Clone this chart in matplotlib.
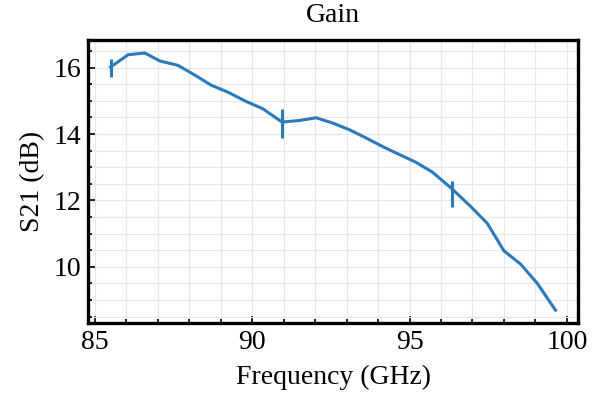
import numpy as np
import matplotlib
matplotlib.use("Agg")
import matplotlib.pyplot as plt
from matplotlib.ticker import MultipleLocator

plt.rcParams.update({
    "font.family": "Liberation Serif",
    "font.size": 20,
})

# Gain data
freq_ghz = [85.50, 86.06, 86.59, 87.07, 87.64, 88.17, 88.70, 89.23, 89.81,
            90.34, 90.95, 91.52, 92.03, 92.56, 93.09, 93.62, 94.15, 94.68,
            95.20, 95.73, 96.36, 96.95, 97.47, 98.00, 98.53, 99.06, 99.64]
s21_db = [16.02, 16.39, 16.44, 16.20, 16.07, 15.78, 15.47, 15.26, 14.98,
          14.76, 14.36, 14.41, 14.49, 14.33, 14.13, 13.88, 13.62, 13.38,
          13.15, 12.85, 12.34, 11.81, 11.31, 10.48, 10.08, 9.50, 8.69]

# vertical bars at three frequencies
bar_idx = [0, 10, 20]
bar_lower = [0.30, 0.47, 0.53]
bar_upper = [0.25, 0.40, 0.23]

color = "#2b7bba"

fig = plt.figure(figsize=(6.05, 3.94), dpi=100)
ax = fig.add_axes([0.146, 0.180, 0.809, 0.718])

ax.plot(freq_ghz, s21_db, color=color, lw=2.2, zorder=3)
bx = [freq_ghz[i] for i in bar_idx]
by = [s21_db[i] for i in bar_idx]
ax.errorbar(bx, by, yerr=[bar_lower, bar_upper], fmt="none",
            ecolor=color, elinewidth=2.2, capsize=0, zorder=3)

ax.xaxis.set_major_locator(MultipleLocator(5))
ax.xaxis.set_minor_locator(MultipleLocator(1))
ax.yaxis.set_major_locator(MultipleLocator(2))
ax.yaxis.set_minor_locator(MultipleLocator(0.5))

ax.grid(which="both", color="#e8e8e8", lw=0.9, zorder=0)
ax.set_axisbelow(True)

ax.tick_params(which="both", direction="in", top=False, right=False,
               width=1.2, labelsize=20)
ax.tick_params(which="major", length=5, pad=5)
ax.tick_params(which="minor", length=3)
for sp in ax.spines.values():
    sp.set_linewidth(2.4)

ax.set_title("Gain", fontsize=20, pad=13)
ax.set_xlabel("Frequency (GHz)", fontsize=20, labelpad=7)
ax.set_ylabel("S21 (dB)", fontsize=20, labelpad=6)

fig.savefig("out.png", dpi=100)
